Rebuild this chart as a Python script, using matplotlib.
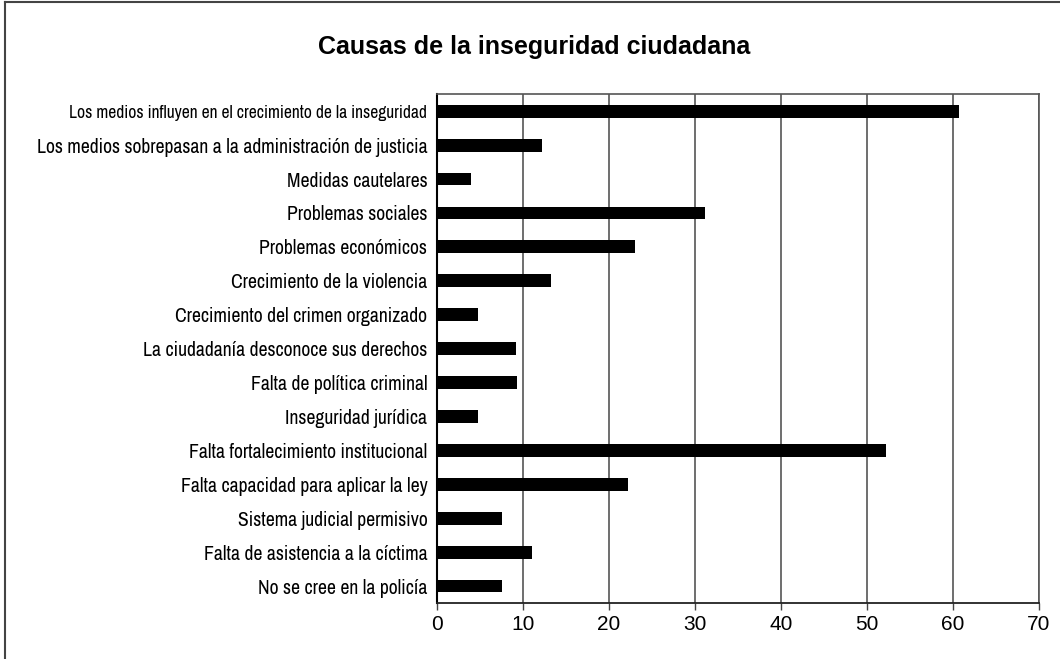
import matplotlib
matplotlib.use('Agg')
import matplotlib.pyplot as plt
from matplotlib.lines import Line2D

categories = [
    'Los medios influyen en el crecimiento de la inseguridad',
    'Los medios sobrepasan a la administración de justicia',
    'Medidas cautelares',
    'Problemas sociales',
    'Problemas económicos',
    'Crecimiento de la violencia',
    'Crecimiento del crimen organizado',
    'La ciudadanía desconoce sus derechos',
    'Falta de política criminal',
    'Inseguridad jurídica',
    'Falta fortalecimiento institucional',
    'Falta capacidad para aplicar la ley',
    'Sistema judicial permisivo',
    'Falta de asistencia a la cíctima',
    'No se cree en la policía',
]
values = [60.7, 12.2, 3.9, 31.2, 23.0, 13.2, 4.8, 9.2, 9.3, 4.8, 52.2, 22.2, 7.6, 11.1, 7.6]
xticks = [0, 10, 20, 30, 40, 50, 60, 70]

narrow = ['Archivo Narrow', 'DejaVu Sans']

fig = plt.figure(figsize=(10.6, 6.59), dpi=100)
ax = fig.add_axes([0.4123, 0.085, 0.98 - 0.4123, 0.857 - 0.085])

ypos = list(range(len(categories)))
ax.barh(ypos, values, height=0.38, color='black', zorder=3)
ax.set_ylim(len(categories) - 0.5, -0.5)
ax.set_xlim(0, 70)
ax.set_xticks(xticks)
ax.set_xticklabels([str(t) for t in xticks], fontsize=15, family='Liberation Sans')
ax.set_yticks(ypos)
ax.set_yticklabels(categories, family=narrow, fontsize=14.2)
ax.get_yticklabels()[0].set_fontsize(12.6)
ax.tick_params(axis='y', length=0, pad=7)
ax.tick_params(axis='x', length=5, width=1, color='#444444', pad=4)

ax.xaxis.grid(True, color='#555555', linewidth=1.2, zorder=0)
for s in ['top', 'right']:
    ax.spines[s].set_color('#555555')
    ax.spines[s].set_linewidth(1.2)
ax.spines['left'].set_color('black')
ax.spines['left'].set_linewidth(1.5)
ax.spines['bottom'].set_color('#222222')
ax.spines['bottom'].set_linewidth(1.3)

fig.text(0.504, 0.928, 'Causas de la inseguridad ciudadana', ha='center', va='center',
         fontsize=18, fontweight='bold', family='Liberation Sans')

# outer frame (left and top only visible)
fig.add_artist(Line2D([0.005, 0.005], [0, 0.997], transform=fig.transFigure, color='#444444', linewidth=1.5))
fig.add_artist(Line2D([0.005, 1.0], [0.997, 0.997], transform=fig.transFigure, color='#444444', linewidth=1.5))

fig.savefig('out.png', dpi=100)
